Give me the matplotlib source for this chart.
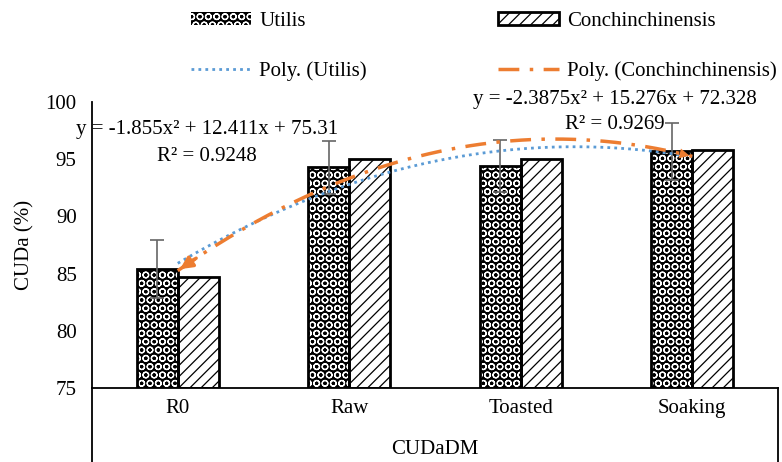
import matplotlib
matplotlib.use("Agg")
import matplotlib.pyplot as plt
import numpy as np
from matplotlib.patches import Patch
from matplotlib.lines import Line2D

plt.rcParams['font.family'] = ['Liberation Serif', 'DejaVu Serif']
plt.rcParams['font.size'] = 15
plt.rcParams['hatch.linewidth'] = 0.9

categories = ['R0', 'Raw', 'Toasted', 'Soaking']
utilis = [85.4, 94.3, 94.4, 95.7]
conch = [84.7, 95.0, 95.0, 95.8]
utilis_err = [2.5, 2.3, 2.3, 2.5]
eq_utilis = 'y = -1.855x² + 12.411x + 75.31\nR² = 0.9248'
eq_conch = 'y = -2.3875x² + 15.276x + 72.328'
r2_conch = 'R² = 0.9269'

blue = '#5B9BD5'
orange = '#ED7D31'
grey = '#666666'

fig = plt.figure(figsize=(7.82, 4.62), dpi=100)
ax = fig.add_axes([92/782, 74/462, 686/782, 286/462])

x = np.arange(len(categories))
w = 0.24

# utilis bars: black with white circles
ax.bar(x - w/2, np.array(utilis) - 75, w, bottom=75, color='black',
       edgecolor='white', hatch='OO', lw=0, zorder=2)
ax.bar(x - w/2, np.array(utilis) - 75, w, bottom=75, fill=False,
       edgecolor='black', lw=2, zorder=3)
ax.errorbar(x - w/2, utilis, yerr=utilis_err, fmt='none', ecolor=grey,
            elinewidth=1.2, capsize=5, capthick=1.2, zorder=4)

# conch bars: white with diagonal pattern
ax.bar(x + w/2, np.array(conch) - 75, w, bottom=75, color='white',
       edgecolor='black', hatch='///', lw=0, zorder=2)
ax.bar(x + w/2, np.array(conch) - 75, w, bottom=75, fill=False,
       edgecolor='black', lw=2, zorder=3)

# polynomial trendlines (order 2, x = 1..4 like Excel)
xs = np.arange(1, len(categories) + 1)
xf = np.linspace(1, len(categories), 200)
pu = np.polyfit(xs, utilis, 2)
pc = np.polyfit(xs, conch, 2)
ax.plot(xf - 1, np.polyval(pu, xf), color=blue, lw=2, ls=(0, (1, 1.5)), zorder=5)
ax.plot(xf - 1, np.polyval(pc, xf), color=orange, lw=2.5,
        ls=(0, (6, 3, 1, 3)), zorder=5)
# arrow heads at both ends of the orange line
yc = np.polyval(pc, xf)
ax.annotate('', xy=(xf[0] - 1, yc[0]), xytext=(xf[8] - 1, yc[8]),
            arrowprops=dict(arrowstyle='-|>', color=orange, lw=2.5,
                            mutation_scale=18), zorder=6)
ax.annotate('', xy=(xf[-1] - 1, yc[-1]), xytext=(xf[-8] - 1, yc[-8]),
            arrowprops=dict(arrowstyle='-|>', color=orange, lw=0,
                            mutation_scale=18), zorder=6)

ax.text(0.17, 96.4, eq_utilis, ha='center', va='center', linespacing=1.6,
        zorder=6, clip_on=False)
ax.text(2.55, 100.2, eq_conch, ha='center', va='center', zorder=6, clip_on=False)
ax.text(2.55, 98.0, r2_conch, ha='center', va='center', zorder=6)

ax.set_xlim(-0.5, 3.5)
ax.set_ylim(75, 100)
ax.set_yticks([75, 80, 85, 90, 95, 100])
ax.set_xticks(x)
ax.set_xticklabels(categories)
ax.tick_params(axis='both', length=0)
ax.tick_params(axis='y', pad=11)
ax.tick_params(axis='x', pad=8)
ax.set_ylabel('CUDa (%)', labelpad=8)
ax.set_xlabel('CUDaDM', labelpad=16)

for s in ['top', 'right']:
    ax.spines[s].set_visible(False)
ax.spines['left'].set_linewidth(1.3)
ax.spines['bottom'].set_linewidth(1.3)
# category box below the axis
ax.add_line(Line2D([0, 0], [0, -0.35], transform=ax.transAxes, color='black',
                   lw=1.3, clip_on=False))
ax.add_line(Line2D([1, 1], [0, -0.35], transform=ax.transAxes, color='black',
                   lw=1.3, clip_on=False))

handles = [
    Patch(facecolor='black', edgecolor='white', hatch='OO', lw=0),
    Line2D([], [], color=blue, lw=2, ls=(0, (1, 1.5))),
    Patch(facecolor='white', edgecolor='black', hatch='///', lw=2),
    Line2D([], [], color=orange, lw=2.5, ls=(0, (6, 3, 1, 3))),
]
labels = ['Utilis', 'Poly. (Utilis)', 'Conchinchinensis', 'Poly. (Conchinchinensis)']
fig.legend(handles, labels, ncol=2, loc='upper left',
           bbox_to_anchor=(174/782, 1.01), frameon=False, handlelength=2.9,
           handleheight=0.6, handletextpad=0.4, columnspacing=6.3,
           labelspacing=1.45, borderpad=0.3)

fig.savefig('out.png', dpi=100)
